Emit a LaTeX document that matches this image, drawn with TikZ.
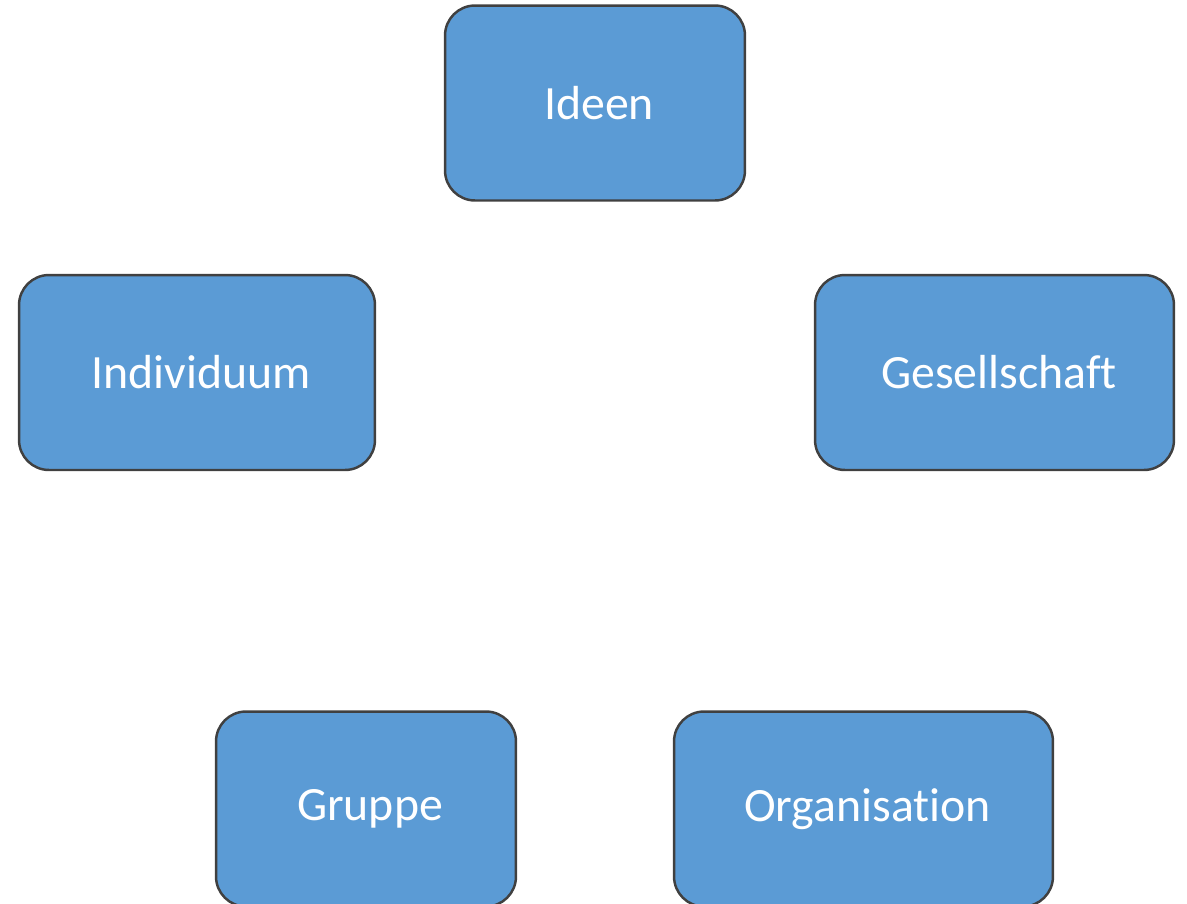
\documentclass[tikz,border=0pt]{standalone}
\usepackage{fontspec}
\setmainfont{Carlito}[Ligatures=NoCommon]
\definecolor{boxfill}{HTML}{5B9BD5}
\definecolor{boxline}{HTML}{404040}
\tikzset{
  px/.style={x=0.02cm,y=-0.02cm},
  conceptbox/.style={draw=boxline, line width=1.4pt, fill=boxfill, rounded corners=0.6cm,
    text=white, font=\fontsize{27.2}{31}\selectfont, inner sep=0pt, minimum height=3.9cm}
}
\begin{document}
\begin{tikzpicture}[px]
\useasboundingbox (0,0) rectangle (1187,903);
\clip (0,0) rectangle (1187,903);
\node[conceptbox, minimum width=6cm] (ideen) at (595,103) {\hspace*{0.16cm}Ideen};
\node[conceptbox, minimum width=7.12cm] (indiv) at (197,372.5) {\hspace*{0.16cm}Individuum};
\node[conceptbox, minimum width=7.18cm] (ges) at (994.5,372.5) {\hspace*{0.18cm}Gesellschaft};
\node[conceptbox, minimum width=6cm] (gruppe) at (366,809) {\hspace*{0.16cm}Gruppe};
\node[conceptbox, minimum width=7.58cm] (org) at (863.5,809) {\hspace*{0.16cm}Organisation};
\end{tikzpicture}
\end{document}
